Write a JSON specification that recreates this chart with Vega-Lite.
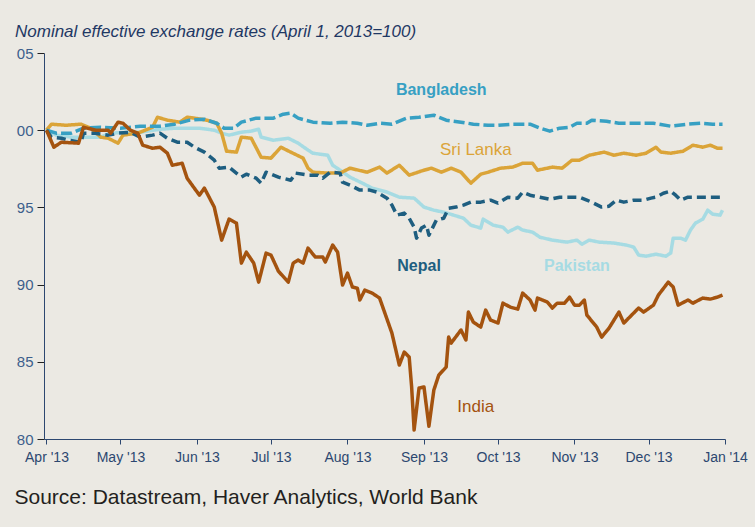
{
  "$schema": "https://vega.github.io/schema/vega-lite/v6.json",
  "width": 681,
  "height": 386,
  "autosize": "none",
  "padding": {"left": 44, "top": 53, "right": 30, "bottom": 88},
  "background": "#ebe9e3",
  "config": {"view": {"stroke": null}, "font": "Liberation Sans"},
  "title": {
    "text": "Nominal effective exchange rates (April 1, 2013=100)",
    "anchor": "start",
    "frame": "group",
    "dx": -29,
    "offset": -12,
    "baseline": "bottom",
    "font": "Liberation Sans",
    "fontStyle": "italic",
    "fontWeight": "normal",
    "fontSize": 17,
    "color": "#1f3864"
  },
  "datasets": {
    "series": [
      {"s":"Pakistan","t":"2013-04-01","v":100},
      {"s":"Pakistan","t":"2013-04-05","v":99.68},
      {"s":"Pakistan","t":"2013-04-11","v":99.55},
      {"s":"Pakistan","t":"2013-04-16","v":99.55},
      {"s":"Pakistan","t":"2013-04-23","v":99.55},
      {"s":"Pakistan","t":"2013-04-27","v":99.81},
      {"s":"Pakistan","t":"2013-05-04","v":99.87},
      {"s":"Pakistan","t":"2013-05-09","v":99.87},
      {"s":"Pakistan","t":"2013-05-17","v":100.06},
      {"s":"Pakistan","t":"2013-05-23","v":100.13},
      {"s":"Pakistan","t":"2013-06-02","v":100.13},
      {"s":"Pakistan","t":"2013-06-08","v":100.0},
      {"s":"Pakistan","t":"2013-06-11","v":99.81},
      {"s":"Pakistan","t":"2013-06-14","v":99.68},
      {"s":"Pakistan","t":"2013-06-19","v":99.87},
      {"s":"Pakistan","t":"2013-06-23","v":99.94},
      {"s":"Pakistan","t":"2013-06-26","v":100.06},
      {"s":"Pakistan","t":"2013-06-27","v":99.55},
      {"s":"Pakistan","t":"2013-07-02","v":99.35},
      {"s":"Pakistan","t":"2013-07-08","v":99.48},
      {"s":"Pakistan","t":"2013-07-12","v":99.16},
      {"s":"Pakistan","t":"2013-07-16","v":98.71},
      {"s":"Pakistan","t":"2013-07-18","v":98.51},
      {"s":"Pakistan","t":"2013-07-24","v":98.38},
      {"s":"Pakistan","t":"2013-07-26","v":97.73},
      {"s":"Pakistan","t":"2013-07-29","v":97.41},
      {"s":"Pakistan","t":"2013-08-02","v":96.96},
      {"s":"Pakistan","t":"2013-08-07","v":96.57},
      {"s":"Pakistan","t":"2013-08-11","v":96.25},
      {"s":"Pakistan","t":"2013-08-17","v":95.99},
      {"s":"Pakistan","t":"2013-08-22","v":95.66},
      {"s":"Pakistan","t":"2013-08-28","v":95.6},
      {"s":"Pakistan","t":"2013-09-01","v":95.02},
      {"s":"Pakistan","t":"2013-09-05","v":94.82},
      {"s":"Pakistan","t":"2013-09-09","v":94.69},
      {"s":"Pakistan","t":"2013-09-13","v":94.5},
      {"s":"Pakistan","t":"2013-09-17","v":94.3},
      {"s":"Pakistan","t":"2013-09-20","v":93.85},
      {"s":"Pakistan","t":"2013-09-24","v":93.66},
      {"s":"Pakistan","t":"2013-09-25","v":94.24},
      {"s":"Pakistan","t":"2013-09-29","v":93.85},
      {"s":"Pakistan","t":"2013-10-03","v":93.72},
      {"s":"Pakistan","t":"2013-10-05","v":93.4},
      {"s":"Pakistan","t":"2013-10-09","v":93.72},
      {"s":"Pakistan","t":"2013-10-11","v":93.53},
      {"s":"Pakistan","t":"2013-10-15","v":93.4},
      {"s":"Pakistan","t":"2013-10-18","v":93.07},
      {"s":"Pakistan","t":"2013-10-23","v":92.88},
      {"s":"Pakistan","t":"2013-10-29","v":92.75},
      {"s":"Pakistan","t":"2013-11-02","v":92.88},
      {"s":"Pakistan","t":"2013-11-04","v":92.62},
      {"s":"Pakistan","t":"2013-11-07","v":92.88},
      {"s":"Pakistan","t":"2013-11-11","v":92.75},
      {"s":"Pakistan","t":"2013-11-17","v":92.69},
      {"s":"Pakistan","t":"2013-11-22","v":92.56},
      {"s":"Pakistan","t":"2013-11-25","v":92.43},
      {"s":"Pakistan","t":"2013-11-27","v":91.91},
      {"s":"Pakistan","t":"2013-11-30","v":91.84},
      {"s":"Pakistan","t":"2013-12-04","v":91.97},
      {"s":"Pakistan","t":"2013-12-08","v":91.84},
      {"s":"Pakistan","t":"2013-12-10","v":92.04},
      {"s":"Pakistan","t":"2013-12-11","v":93.01},
      {"s":"Pakistan","t":"2013-12-14","v":93.01},
      {"s":"Pakistan","t":"2013-12-16","v":92.88},
      {"s":"Pakistan","t":"2013-12-18","v":93.53},
      {"s":"Pakistan","t":"2013-12-20","v":93.98},
      {"s":"Pakistan","t":"2013-12-23","v":94.24},
      {"s":"Pakistan","t":"2013-12-25","v":94.82},
      {"s":"Pakistan","t":"2013-12-27","v":94.56},
      {"s":"Pakistan","t":"2013-12-30","v":94.5},
      {"s":"Pakistan","t":"2013-12-31","v":94.82},

      {"s":"Sri Lanka","t":"2013-04-01","v":100},
      {"s":"Sri Lanka","t":"2013-04-03","v":100.39},
      {"s":"Sri Lanka","t":"2013-04-09","v":100.32},
      {"s":"Sri Lanka","t":"2013-04-15","v":100.39},
      {"s":"Sri Lanka","t":"2013-04-19","v":100.13},
      {"s":"Sri Lanka","t":"2013-04-23","v":99.55},
      {"s":"Sri Lanka","t":"2013-04-26","v":99.48},
      {"s":"Sri Lanka","t":"2013-04-30","v":99.16},
      {"s":"Sri Lanka","t":"2013-05-02","v":99.68},
      {"s":"Sri Lanka","t":"2013-05-08","v":99.81},
      {"s":"Sri Lanka","t":"2013-05-11","v":100.0},
      {"s":"Sri Lanka","t":"2013-05-14","v":100.19},
      {"s":"Sri Lanka","t":"2013-05-16","v":100.84},
      {"s":"Sri Lanka","t":"2013-05-20","v":100.65},
      {"s":"Sri Lanka","t":"2013-05-25","v":100.52},
      {"s":"Sri Lanka","t":"2013-05-28","v":100.84},
      {"s":"Sri Lanka","t":"2013-05-31","v":100.78},
      {"s":"Sri Lanka","t":"2013-06-05","v":100.65},
      {"s":"Sri Lanka","t":"2013-06-09","v":100.45},
      {"s":"Sri Lanka","t":"2013-06-11","v":99.81},
      {"s":"Sri Lanka","t":"2013-06-13","v":98.64},
      {"s":"Sri Lanka","t":"2013-06-17","v":98.58},
      {"s":"Sri Lanka","t":"2013-06-19","v":99.55},
      {"s":"Sri Lanka","t":"2013-06-23","v":99.48},
      {"s":"Sri Lanka","t":"2013-06-27","v":98.25},
      {"s":"Sri Lanka","t":"2013-07-01","v":98.19},
      {"s":"Sri Lanka","t":"2013-07-05","v":98.9},
      {"s":"Sri Lanka","t":"2013-07-09","v":98.58},
      {"s":"Sri Lanka","t":"2013-07-14","v":98.19},
      {"s":"Sri Lanka","t":"2013-07-16","v":97.54},
      {"s":"Sri Lanka","t":"2013-07-18","v":97.28},
      {"s":"Sri Lanka","t":"2013-07-24","v":97.22},
      {"s":"Sri Lanka","t":"2013-07-29","v":97.22},
      {"s":"Sri Lanka","t":"2013-08-02","v":97.54},
      {"s":"Sri Lanka","t":"2013-08-09","v":97.28},
      {"s":"Sri Lanka","t":"2013-08-14","v":97.61},
      {"s":"Sri Lanka","t":"2013-08-17","v":97.22},
      {"s":"Sri Lanka","t":"2013-08-22","v":97.73},
      {"s":"Sri Lanka","t":"2013-08-26","v":97.09},
      {"s":"Sri Lanka","t":"2013-09-01","v":97.41},
      {"s":"Sri Lanka","t":"2013-09-04","v":97.54},
      {"s":"Sri Lanka","t":"2013-09-08","v":97.28},
      {"s":"Sri Lanka","t":"2013-09-12","v":97.54},
      {"s":"Sri Lanka","t":"2013-09-16","v":97.28},
      {"s":"Sri Lanka","t":"2013-09-20","v":96.57},
      {"s":"Sri Lanka","t":"2013-09-24","v":97.15},
      {"s":"Sri Lanka","t":"2013-09-27","v":97.28},
      {"s":"Sri Lanka","t":"2013-10-02","v":97.54},
      {"s":"Sri Lanka","t":"2013-10-07","v":97.61},
      {"s":"Sri Lanka","t":"2013-10-11","v":97.86},
      {"s":"Sri Lanka","t":"2013-10-15","v":97.86},
      {"s":"Sri Lanka","t":"2013-10-17","v":97.41},
      {"s":"Sri Lanka","t":"2013-10-21","v":97.54},
      {"s":"Sri Lanka","t":"2013-10-23","v":97.61},
      {"s":"Sri Lanka","t":"2013-10-27","v":97.54},
      {"s":"Sri Lanka","t":"2013-10-31","v":98.06},
      {"s":"Sri Lanka","t":"2013-11-03","v":98.06},
      {"s":"Sri Lanka","t":"2013-11-07","v":98.38},
      {"s":"Sri Lanka","t":"2013-11-13","v":98.58},
      {"s":"Sri Lanka","t":"2013-11-17","v":98.38},
      {"s":"Sri Lanka","t":"2013-11-21","v":98.51},
      {"s":"Sri Lanka","t":"2013-11-26","v":98.38},
      {"s":"Sri Lanka","t":"2013-11-30","v":98.51},
      {"s":"Sri Lanka","t":"2013-12-04","v":98.9},
      {"s":"Sri Lanka","t":"2013-12-06","v":98.58},
      {"s":"Sri Lanka","t":"2013-12-10","v":98.51},
      {"s":"Sri Lanka","t":"2013-12-15","v":98.64},
      {"s":"Sri Lanka","t":"2013-12-19","v":99.03},
      {"s":"Sri Lanka","t":"2013-12-23","v":98.9},
      {"s":"Sri Lanka","t":"2013-12-26","v":99.03},
      {"s":"Sri Lanka","t":"2013-12-29","v":98.83},
      {"s":"Sri Lanka","t":"2013-12-31","v":98.83},

      {"s":"Bangladesh","t":"2013-04-01","v":100},
      {"s":"Bangladesh","t":"2013-04-05","v":99.81},
      {"s":"Bangladesh","t":"2013-04-11","v":99.81},
      {"s":"Bangladesh","t":"2013-04-16","v":100.13},
      {"s":"Bangladesh","t":"2013-04-23","v":100.19},
      {"s":"Bangladesh","t":"2013-05-01","v":100.13},
      {"s":"Bangladesh","t":"2013-05-09","v":100.26},
      {"s":"Bangladesh","t":"2013-05-17","v":100.26},
      {"s":"Bangladesh","t":"2013-05-23","v":100.39},
      {"s":"Bangladesh","t":"2013-05-29","v":100.65},
      {"s":"Bangladesh","t":"2013-06-04","v":100.71},
      {"s":"Bangladesh","t":"2013-06-09","v":100.45},
      {"s":"Bangladesh","t":"2013-06-12","v":100.13},
      {"s":"Bangladesh","t":"2013-06-16","v":100.13},
      {"s":"Bangladesh","t":"2013-06-19","v":100.52},
      {"s":"Bangladesh","t":"2013-06-25","v":100.78},
      {"s":"Bangladesh","t":"2013-07-02","v":100.78},
      {"s":"Bangladesh","t":"2013-07-06","v":101.04},
      {"s":"Bangladesh","t":"2013-07-09","v":101.1},
      {"s":"Bangladesh","t":"2013-07-12","v":100.78},
      {"s":"Bangladesh","t":"2013-07-18","v":100.52},
      {"s":"Bangladesh","t":"2013-07-25","v":100.45},
      {"s":"Bangladesh","t":"2013-07-30","v":100.52},
      {"s":"Bangladesh","t":"2013-08-05","v":100.45},
      {"s":"Bangladesh","t":"2013-08-09","v":100.32},
      {"s":"Bangladesh","t":"2013-08-14","v":100.45},
      {"s":"Bangladesh","t":"2013-08-19","v":100.39},
      {"s":"Bangladesh","t":"2013-08-25","v":100.78},
      {"s":"Bangladesh","t":"2013-08-30","v":100.84},
      {"s":"Bangladesh","t":"2013-09-05","v":100.97},
      {"s":"Bangladesh","t":"2013-09-10","v":100.65},
      {"s":"Bangladesh","t":"2013-09-16","v":100.52},
      {"s":"Bangladesh","t":"2013-09-21","v":100.39},
      {"s":"Bangladesh","t":"2013-09-27","v":100.32},
      {"s":"Bangladesh","t":"2013-10-01","v":100.32},
      {"s":"Bangladesh","t":"2013-10-07","v":100.39},
      {"s":"Bangladesh","t":"2013-10-14","v":100.39},
      {"s":"Bangladesh","t":"2013-10-18","v":100.13},
      {"s":"Bangladesh","t":"2013-10-22","v":99.94},
      {"s":"Bangladesh","t":"2013-10-26","v":100.13},
      {"s":"Bangladesh","t":"2013-10-30","v":100.19},
      {"s":"Bangladesh","t":"2013-11-02","v":100.45},
      {"s":"Bangladesh","t":"2013-11-06","v":100.45},
      {"s":"Bangladesh","t":"2013-11-08","v":100.65},
      {"s":"Bangladesh","t":"2013-11-14","v":100.58},
      {"s":"Bangladesh","t":"2013-11-19","v":100.45},
      {"s":"Bangladesh","t":"2013-11-26","v":100.45},
      {"s":"Bangladesh","t":"2013-12-03","v":100.45},
      {"s":"Bangladesh","t":"2013-12-10","v":100.26},
      {"s":"Bangladesh","t":"2013-12-17","v":100.39},
      {"s":"Bangladesh","t":"2013-12-22","v":100.45},
      {"s":"Bangladesh","t":"2013-12-27","v":100.39},
      {"s":"Bangladesh","t":"2013-12-31","v":100.39},

      {"s":"Nepal","t":"2013-04-01","v":100},
      {"s":"Nepal","t":"2013-04-03","v":99.55},
      {"s":"Nepal","t":"2013-04-07","v":99.48},
      {"s":"Nepal","t":"2013-04-10","v":99.35},
      {"s":"Nepal","t":"2013-04-15","v":99.22},
      {"s":"Nepal","t":"2013-04-16","v":99.81},
      {"s":"Nepal","t":"2013-04-20","v":99.81},
      {"s":"Nepal","t":"2013-04-26","v":99.68},
      {"s":"Nepal","t":"2013-04-30","v":99.81},
      {"s":"Nepal","t":"2013-05-05","v":99.87},
      {"s":"Nepal","t":"2013-05-09","v":99.55},
      {"s":"Nepal","t":"2013-05-14","v":99.68},
      {"s":"Nepal","t":"2013-05-17","v":99.81},
      {"s":"Nepal","t":"2013-05-20","v":99.48},
      {"s":"Nepal","t":"2013-05-24","v":99.22},
      {"s":"Nepal","t":"2013-05-28","v":99.22},
      {"s":"Nepal","t":"2013-05-31","v":98.9},
      {"s":"Nepal","t":"2013-06-04","v":98.58},
      {"s":"Nepal","t":"2013-06-08","v":98.06},
      {"s":"Nepal","t":"2013-06-10","v":97.54},
      {"s":"Nepal","t":"2013-06-14","v":97.61},
      {"s":"Nepal","t":"2013-06-19","v":96.96},
      {"s":"Nepal","t":"2013-06-21","v":97.15},
      {"s":"Nepal","t":"2013-06-25","v":96.89},
      {"s":"Nepal","t":"2013-06-27","v":96.57},
      {"s":"Nepal","t":"2013-06-29","v":97.28},
      {"s":"Nepal","t":"2013-07-04","v":96.96},
      {"s":"Nepal","t":"2013-07-09","v":96.76},
      {"s":"Nepal","t":"2013-07-11","v":97.22},
      {"s":"Nepal","t":"2013-07-16","v":97.09},
      {"s":"Nepal","t":"2013-07-20","v":97.09},
      {"s":"Nepal","t":"2013-07-22","v":96.89},
      {"s":"Nepal","t":"2013-07-25","v":97.28},
      {"s":"Nepal","t":"2013-07-29","v":97.22},
      {"s":"Nepal","t":"2013-07-30","v":96.63},
      {"s":"Nepal","t":"2013-08-02","v":96.44},
      {"s":"Nepal","t":"2013-08-06","v":96.12},
      {"s":"Nepal","t":"2013-08-10","v":96.12},
      {"s":"Nepal","t":"2013-08-13","v":95.99},
      {"s":"Nepal","t":"2013-08-15","v":95.79},
      {"s":"Nepal","t":"2013-08-17","v":95.6},
      {"s":"Nepal","t":"2013-08-19","v":95.15},
      {"s":"Nepal","t":"2013-08-21","v":94.5},
      {"s":"Nepal","t":"2013-08-24","v":94.63},
      {"s":"Nepal","t":"2013-08-26","v":94.3},
      {"s":"Nepal","t":"2013-08-28","v":93.72},
      {"s":"Nepal","t":"2013-08-29","v":93.01},
      {"s":"Nepal","t":"2013-08-31","v":93.66},
      {"s":"Nepal","t":"2013-09-02","v":93.85},
      {"s":"Nepal","t":"2013-09-03","v":93.2},
      {"s":"Nepal","t":"2013-09-06","v":94.17},
      {"s":"Nepal","t":"2013-09-09","v":94.3},
      {"s":"Nepal","t":"2013-09-11","v":94.95},
      {"s":"Nepal","t":"2013-09-14","v":95.02},
      {"s":"Nepal","t":"2013-09-17","v":95.15},
      {"s":"Nepal","t":"2013-09-20","v":95.34},
      {"s":"Nepal","t":"2013-09-24","v":95.34},
      {"s":"Nepal","t":"2013-09-28","v":95.47},
      {"s":"Nepal","t":"2013-10-01","v":95.28},
      {"s":"Nepal","t":"2013-10-05","v":95.66},
      {"s":"Nepal","t":"2013-10-09","v":95.6},
      {"s":"Nepal","t":"2013-10-11","v":95.99},
      {"s":"Nepal","t":"2013-10-14","v":95.79},
      {"s":"Nepal","t":"2013-10-18","v":95.66},
      {"s":"Nepal","t":"2013-10-22","v":95.53},
      {"s":"Nepal","t":"2013-10-26","v":95.66},
      {"s":"Nepal","t":"2013-10-30","v":95.66},
      {"s":"Nepal","t":"2013-11-03","v":95.66},
      {"s":"Nepal","t":"2013-11-06","v":95.47},
      {"s":"Nepal","t":"2013-11-08","v":95.34},
      {"s":"Nepal","t":"2013-11-12","v":95.02},
      {"s":"Nepal","t":"2013-11-15","v":95.08},
      {"s":"Nepal","t":"2013-11-18","v":95.47},
      {"s":"Nepal","t":"2013-11-21","v":95.34},
      {"s":"Nepal","t":"2013-11-25","v":95.47},
      {"s":"Nepal","t":"2013-11-29","v":95.47},
      {"s":"Nepal","t":"2013-12-02","v":95.6},
      {"s":"Nepal","t":"2013-12-04","v":95.66},
      {"s":"Nepal","t":"2013-12-07","v":95.92},
      {"s":"Nepal","t":"2013-12-10","v":96.05},
      {"s":"Nepal","t":"2013-12-12","v":95.79},
      {"s":"Nepal","t":"2013-12-14","v":95.47},
      {"s":"Nepal","t":"2013-12-17","v":95.66},
      {"s":"Nepal","t":"2013-12-22","v":95.66},
      {"s":"Nepal","t":"2013-12-27","v":95.66},
      {"s":"Nepal","t":"2013-12-31","v":95.66},

      {"s":"India","t":"2013-04-01","v":100},
      {"s":"India","t":"2013-04-04","v":98.9},
      {"s":"India","t":"2013-04-07","v":99.22},
      {"s":"India","t":"2013-04-14","v":99.16},
      {"s":"India","t":"2013-04-16","v":100.19},
      {"s":"India","t":"2013-04-21","v":100.0},
      {"s":"India","t":"2013-04-26","v":100.0},
      {"s":"India","t":"2013-04-27","v":99.81},
      {"s":"India","t":"2013-04-30","v":100.52},
      {"s":"India","t":"2013-05-02","v":100.45},
      {"s":"India","t":"2013-05-05","v":100.0},
      {"s":"India","t":"2013-05-08","v":99.81},
      {"s":"India","t":"2013-05-10","v":99.03},
      {"s":"India","t":"2013-05-14","v":98.83},
      {"s":"India","t":"2013-05-17","v":98.9},
      {"s":"India","t":"2013-05-20","v":98.51},
      {"s":"India","t":"2013-05-22","v":97.73},
      {"s":"India","t":"2013-05-26","v":97.86},
      {"s":"India","t":"2013-05-28","v":96.89},
      {"s":"India","t":"2013-06-02","v":95.79},
      {"s":"India","t":"2013-06-04","v":96.25},
      {"s":"India","t":"2013-06-08","v":95.02},
      {"s":"India","t":"2013-06-11","v":92.88},
      {"s":"India","t":"2013-06-14","v":94.24},
      {"s":"India","t":"2013-06-17","v":93.98},
      {"s":"India","t":"2013-06-19","v":91.39},
      {"s":"India","t":"2013-06-21","v":92.1},
      {"s":"India","t":"2013-06-24","v":91.39},
      {"s":"India","t":"2013-06-26","v":90.16},
      {"s":"India","t":"2013-06-29","v":92.04},
      {"s":"India","t":"2013-07-01","v":91.91},
      {"s":"India","t":"2013-07-04","v":90.87},
      {"s":"India","t":"2013-07-08","v":90.16},
      {"s":"India","t":"2013-07-10","v":91.39},
      {"s":"India","t":"2013-07-12","v":91.59},
      {"s":"India","t":"2013-07-14","v":91.39},
      {"s":"India","t":"2013-07-16","v":92.36},
      {"s":"India","t":"2013-07-19","v":91.78},
      {"s":"India","t":"2013-07-22","v":91.78},
      {"s":"India","t":"2013-07-23","v":91.46},
      {"s":"India","t":"2013-07-26","v":92.56},
      {"s":"India","t":"2013-07-28","v":92.1},
      {"s":"India","t":"2013-07-30","v":89.97},
      {"s":"India","t":"2013-08-01","v":90.74},
      {"s":"India","t":"2013-08-03","v":89.84},
      {"s":"India","t":"2013-08-05","v":89.77},
      {"s":"India","t":"2013-08-06","v":89.0},
      {"s":"India","t":"2013-08-08","v":89.64},
      {"s":"India","t":"2013-08-11","v":89.45},
      {"s":"India","t":"2013-08-14","v":89.13},
      {"s":"India","t":"2013-08-19","v":86.86},
      {"s":"India","t":"2013-08-22","v":84.79},
      {"s":"India","t":"2013-08-24","v":85.63},
      {"s":"India","t":"2013-08-26","v":85.31},
      {"s":"India","t":"2013-08-27","v":83.37},
      {"s":"India","t":"2013-08-28","v":80.58},
      {"s":"India","t":"2013-08-30","v":83.3},
      {"s":"India","t":"2013-09-01","v":83.37},
      {"s":"India","t":"2013-09-03","v":80.83},
      {"s":"India","t":"2013-09-05","v":83.17},
      {"s":"India","t":"2013-09-07","v":84.14},
      {"s":"India","t":"2013-09-10","v":84.66},
      {"s":"India","t":"2013-09-11","v":86.6},
      {"s":"India","t":"2013-09-12","v":86.21},
      {"s":"India","t":"2013-09-16","v":87.06},
      {"s":"India","t":"2013-09-18","v":86.41},
      {"s":"India","t":"2013-09-19","v":88.22},
      {"s":"India","t":"2013-09-21","v":87.57},
      {"s":"India","t":"2013-09-24","v":87.25},
      {"s":"India","t":"2013-09-26","v":88.35},
      {"s":"India","t":"2013-09-28","v":87.7},
      {"s":"India","t":"2013-10-01","v":87.51},
      {"s":"India","t":"2013-10-03","v":88.8},
      {"s":"India","t":"2013-10-06","v":88.54},
      {"s":"India","t":"2013-10-09","v":88.41},
      {"s":"India","t":"2013-10-11","v":89.45},
      {"s":"India","t":"2013-10-14","v":89.0},
      {"s":"India","t":"2013-10-16","v":88.35},
      {"s":"India","t":"2013-10-17","v":89.13},
      {"s":"India","t":"2013-10-21","v":88.87},
      {"s":"India","t":"2013-10-23","v":88.48},
      {"s":"India","t":"2013-10-25","v":88.8},
      {"s":"India","t":"2013-10-28","v":88.8},
      {"s":"India","t":"2013-10-30","v":89.19},
      {"s":"India","t":"2013-11-01","v":88.67},
      {"s":"India","t":"2013-11-03","v":88.67},
      {"s":"India","t":"2013-11-05","v":89.0},
      {"s":"India","t":"2013-11-06","v":88.03},
      {"s":"India","t":"2013-11-10","v":87.25},
      {"s":"India","t":"2013-11-12","v":86.6},
      {"s":"India","t":"2013-11-15","v":87.18},
      {"s":"India","t":"2013-11-19","v":88.22},
      {"s":"India","t":"2013-11-21","v":87.51},
      {"s":"India","t":"2013-11-25","v":88.16},
      {"s":"India","t":"2013-11-27","v":88.48},
      {"s":"India","t":"2013-11-29","v":88.22},
      {"s":"India","t":"2013-12-03","v":88.67},
      {"s":"India","t":"2013-12-05","v":89.32},
      {"s":"India","t":"2013-12-09","v":90.16},
      {"s":"India","t":"2013-12-11","v":89.84},
      {"s":"India","t":"2013-12-13","v":88.67},
      {"s":"India","t":"2013-12-17","v":89.0},
      {"s":"India","t":"2013-12-19","v":88.8},
      {"s":"India","t":"2013-12-23","v":89.13},
      {"s":"India","t":"2013-12-26","v":89.06},
      {"s":"India","t":"2013-12-29","v":89.19},
      {"s":"India","t":"2013-12-31","v":89.32}
    ],
    "labels": [
      {"s":"Bangladesh","t":"2013-09-08","v":102.6},
      {"s":"Sri Lanka","t":"2013-09-22","v":98.7},
      {"s":"Nepal","t":"2013-08-30","v":91.2},
      {"s":"Pakistan","t":"2013-11-02","v":91.2},
      {"s":"India","t":"2013-09-22","v":82.1}
    ]
  },
  "layer": [
    {
      "data": {"name": "series"},
      "mark": {"type": "line", "strokeJoin": "round"},
      "encoding": {
        "x": {
          "field": "t",
          "type": "temporal",
          "scale": {"type": "utc", "domain": ["2013-03-31", "2014-01-01"]},
          "axis": {
            "format": "%b '%y",
            "tickCount": {"interval": "month", "step": 1},
            "labelFlush": false,
            "labelOverlap": false,
            "grid": false,
            "domainColor": "#2c4770",
            "tickColor": "#2c4770",
            "tickSize": 5,
            "labelColor": "#2c4770",
            "labelFont": "Liberation Sans",
            "labelFontSize": 14,
            "labelPadding": 6,
            "title": "Source: Datastream, Haver Analytics, World Bank",
            "titleAnchor": "start",
            "titleAlign": "left",
            "titleX": -30,
            "titleY": 47,
            "titleBaseline": "top",
            "titleFont": "Liberation Sans",
            "titleFontSize": 21,
            "titleFontWeight": "normal",
            "titleColor": "#231f20"
          }
        },
        "y": {
          "field": "v",
          "type": "quantitative",
          "scale": {"domain": [80, 105], "nice": false, "zero": false},
          "axis": {
            "values": [80, 85, 90, 95, 100, 105],
            "labelExpr": "datum.value >= 100 ? substring(datum.label, 1) : datum.label",
            "grid": false,
            "title": null,
            "domainColor": "#2c4770",
            "tickColor": "#222222",
            "tickSize": 7,
            "labelColor": "#3d5f8c",
            "labelFont": "Liberation Sans",
            "labelFontSize": 15,
            "labelPadding": 4
          }
        },
        "color": {
          "field": "s",
          "type": "nominal",
          "scale": {
            "domain": ["Pakistan", "Sri Lanka", "Bangladesh", "Nepal", "India"],
            "range": ["#a6dbe3", "#dba438", "#37a0c3", "#1e5e80", "#a4530f"]
          },
          "legend": null
        },
        "strokeDash": {
          "field": "s",
          "type": "nominal",
          "scale": {
            "domain": ["Pakistan", "Sri Lanka", "Bangladesh", "Nepal", "India"],
            "range": [[1, 0], [1, 0], [11, 4], [9, 5], [1, 0]]
          },
          "legend": null
        },
        "strokeWidth": {
          "field": "s",
          "type": "nominal",
          "scale": {
            "domain": ["Pakistan", "Sri Lanka", "Bangladesh", "Nepal", "India"],
            "range": [3.5, 3.5, 4.5, 4.5, 3.5]
          },
          "legend": null
        }
      }
    },
    {
      "mark": {"type": "rule", "color": "#000000", "strokeWidth": 1},
      "encoding": {"y": {"datum": 100}}
    },
    {
      "data": {"name": "labels"},
      "transform": [{"filter": "datum.s == 'Bangladesh' || datum.s == 'Nepal' || datum.s == 'Pakistan'"}],
      "mark": {"type": "text", "font": "Liberation Sans", "fontSize": 16, "fontWeight": "bold", "align": "center", "baseline": "middle"},
      "encoding": {
        "x": {"field": "t", "type": "temporal"},
        "y": {"field": "v", "type": "quantitative"},
        "text": {"field": "s"},
        "color": {"field": "s", "type": "nominal", "scale": {"domain": ["Pakistan", "Sri Lanka", "Bangladesh", "Nepal", "India"], "range": ["#a6dbe3", "#dba438", "#37a0c3", "#1e5e80", "#a4530f"]}, "legend": null}
      }
    },
    {
      "data": {"name": "labels"},
      "transform": [{"filter": "datum.s == 'Sri Lanka' || datum.s == 'India'"}],
      "mark": {"type": "text", "font": "Liberation Sans", "fontSize": 17, "fontWeight": "normal", "align": "center", "baseline": "middle"},
      "encoding": {
        "x": {"field": "t", "type": "temporal"},
        "y": {"field": "v", "type": "quantitative"},
        "text": {"field": "s"},
        "color": {"field": "s", "type": "nominal", "scale": {"domain": ["Pakistan", "Sri Lanka", "Bangladesh", "Nepal", "India"], "range": ["#a6dbe3", "#dba438", "#37a0c3", "#1e5e80", "#a4530f"]}, "legend": null}
      }
    }
  ]
}
